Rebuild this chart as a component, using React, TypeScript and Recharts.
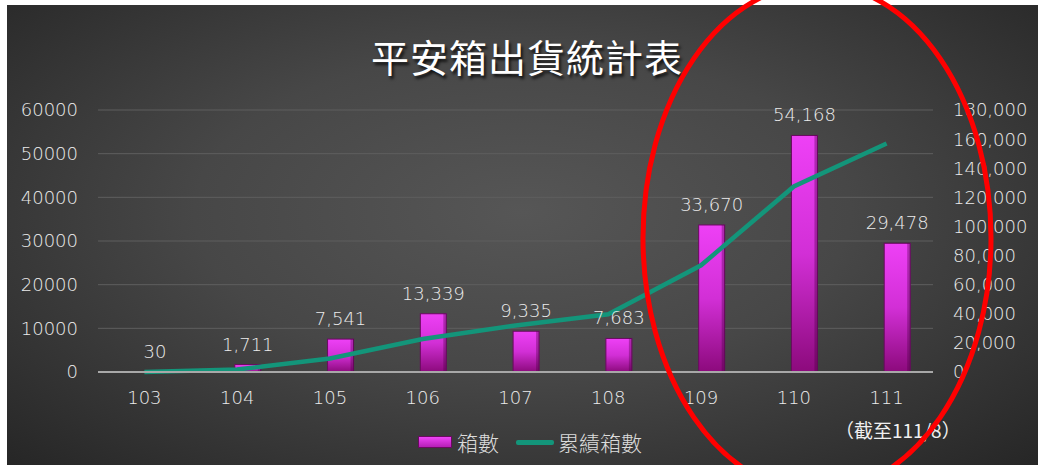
import React from 'react'
import { ComposedChart, Bar, Line, XAxis, YAxis, CartesianGrid, Legend, LabelList } from 'recharts'

const years = ['103', '104', '105', '106', '107', '108', '109', '110', '111']
const boxes = [30, 1711, 7541, 13339, 9335, 7683, 33670, 54168, 29478]
const cumulative = [30, 1741, 9282, 22621, 31956, 39639, 73309, 127477, 156955]
const leftTicks = [0, 10000, 20000, 30000, 40000, 50000, 60000]
const rightTicks = [0, 20000, 40000, 60000, 80000, 100000, 120000, 140000, 160000, 180000]

const title = '平安箱出貨統計表'
const barName = '箱數'
const lineName = '累績箱數'
const note = '（截至111/8）'

const data = years.map((year, i) => ({ year, boxes: boxes[i], cumulative: cumulative[i] }))

const NUM_FONT = '"DejaVu Sans", sans-serif'
const CJK_FONT = '"Noto Sans CJK TC", "Noto Sans", sans-serif'
const TEXT = '#ececec'
const BAR_SHIFT = 11

const fmt = (v: number) => v.toLocaleString('en-US')

const BarShape = (p: any) => {
  const { x, y, width, height } = p
  if (height == null || height <= 0) return null
  const bx = x + BAR_SHIFT
  return (
    <g>
      <rect x={bx} y={y} width={width} height={height} fill="url(#barGrad)" stroke="#6a0a60" strokeWidth={1} />
      <rect x={bx + width - 3} y={y} width={3} height={height} fill="rgba(70,0,60,0.35)" />
    </g>
  )
}

const BarLabel = (p: any) => {
  const vb = p.viewBox ?? p
  const x = Number(vb.x ?? p.x)
  const y = Number(vb.y ?? p.y)
  const w = Number(vb.width ?? p.width)
  return (
    <text x={x + w / 2 + BAR_SHIFT} y={y - 14} textAnchor="middle" fill={TEXT} fontSize={18} fontWeight={200} fontFamily={NUM_FONT}>
      {fmt(Number(p.value))}
    </text>
  )
}

const LegendBox = () => (
  <div style={{ display: 'flex', alignItems: 'center', fontFamily: CJK_FONT, fontSize: 21, fontWeight: 300, color: '#dcdcdc', lineHeight: '26px' }}>
    <span style={{ display: 'inline-block', width: 34, height: 12, background: 'linear-gradient(#ee44f6, #b51fb6)', border: '1px solid #6a0a60', boxSizing: 'border-box', marginRight: 5 }} />
    <span>{barName}</span>
    <span style={{ display: 'inline-block', width: 38, height: 5, background: '#13957a', borderRadius: 2, marginLeft: 17, marginRight: 4 }} />
    <span>{lineName}</span>
  </div>
)

const tickStyle = { fill: TEXT, fontSize: 18, fontWeight: 200, fontFamily: NUM_FONT }

export default function App() {
  return (
    <div style={{ position: 'absolute', left: 0, top: 0, width: 1038, height: 465, background: '#fff', overflow: 'hidden' }}>
      <div
        style={{
          position: 'absolute',
          left: 7,
          top: 5,
          width: 1031,
          height: 460,
          background: 'radial-gradient(ellipse at 50% 45%, #565656 0%, #474747 45%, #262626 100%)',
        }}
      >
        <div
          style={{
            position: 'absolute',
            left: 520,
            top: 32,
            transform: 'translateX(-50%)',
            fontFamily: CJK_FONT,
            fontSize: 38,
            fontWeight: 400,
            letterSpacing: 1,
            lineHeight: '38px',
            color: '#fff',
            whiteSpace: 'nowrap',
            textShadow: '2px 3px 3px rgba(0,0,0,0.75)',
          }}
        >
          {title}
        </div>
        <ComposedChart width={1031} height={460} data={data} margin={{ top: 105, right: 0, bottom: 53, left: 0 }}>
          <defs>
            <linearGradient id="barGrad" x1="0" y1="0" x2="0" y2="1">
              <stop offset="0%" stopColor="#ee40f6" />
              <stop offset="50%" stopColor="#d22fd6" />
              <stop offset="100%" stopColor="#8c0a7c" />
            </linearGradient>
          </defs>
          <CartesianGrid yAxisId="left" vertical={false} stroke="#5e5e5e" strokeWidth={1} />
          <XAxis
            dataKey="year"
            height={40}
            tickLine={false}
            axisLine={{ stroke: '#a8a8a8', strokeWidth: 2 }}
            tickMargin={13}
            tick={tickStyle}
          />
          <YAxis
            yAxisId="left"
            width={91}
            domain={[0, 60000]}
            ticks={leftTicks}
            axisLine={false}
            tickLine={false}
            tickMargin={14}
            tick={tickStyle}
          />
          <YAxis
            yAxisId="right"
            orientation="right"
            width={105}
            domain={[0, 180000]}
            ticks={rightTicks}
            axisLine={false}
            tickLine={false}
            tickMargin={14}
            tickFormatter={fmt}
            tick={{ ...tickStyle, textAnchor: 'start' }}
          />
          <Legend
            layout="horizontal"
            verticalAlign="middle"
            align="center"
            wrapperStyle={{ left: 411, top: 424, width: 'auto' }}
            content={() => <LegendBox />}
          />
          <Bar yAxisId="left" dataKey="boxes" name={barName} barSize={26} shape={<BarShape />} isAnimationActive={false}>
            <LabelList dataKey="boxes" position="top" content={<BarLabel />} />
          </Bar>
          <Line
            yAxisId="right"
            type="linear"
            dataKey="cumulative"
            name={lineName}
            stroke="#13957a"
            strokeWidth={4.5}
            dot={false}
            isAnimationActive={false}
          />
        </ComposedChart>
        <div
          style={{
            position: 'absolute',
            left: 828,
            top: 413,
            fontFamily: CJK_FONT,
            fontSize: 19,
            lineHeight: '24px',
            color: '#f0f0f0',
            whiteSpace: 'nowrap',
          }}
        >
          {note}
        </div>
      </div>
      <svg width={1038} height={465} style={{ position: 'absolute', left: 0, top: 0, pointerEvents: 'none' }}>
        <ellipse cx={817} cy={238} rx={174} ry={254} fill="none" stroke="#ff0000" strokeWidth={5} />
      </svg>
    </div>
  )
}
